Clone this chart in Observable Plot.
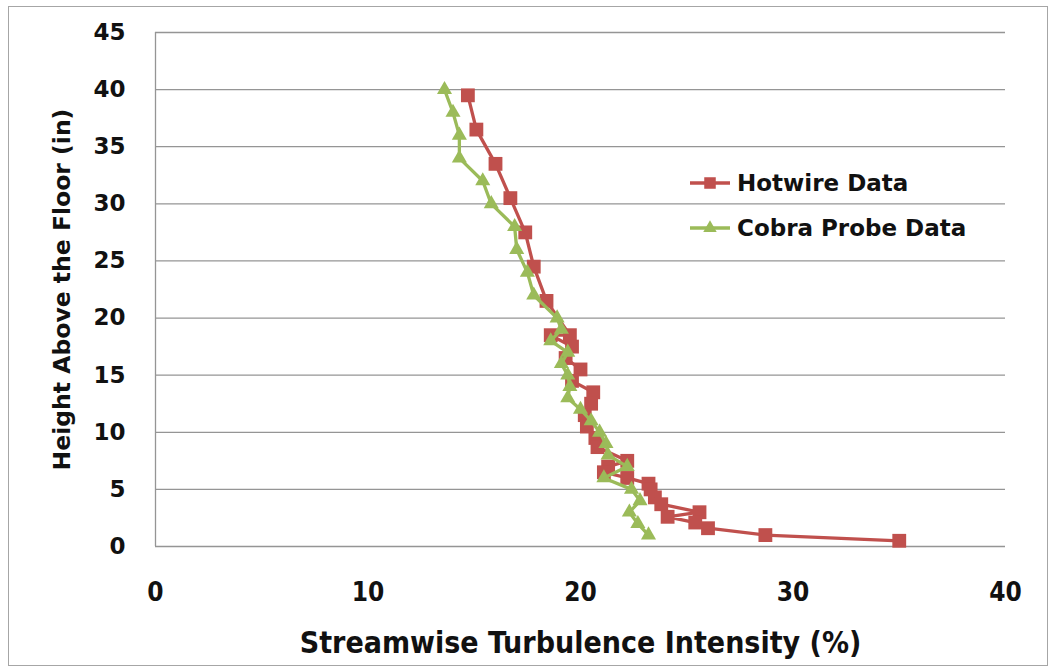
<!DOCTYPE html>
<html>
<head>
<meta charset="utf-8">
<script src="https://cdn.jsdelivr.net/npm/d3@7"></script>
<script src="https://cdn.jsdelivr.net/npm/@observablehq/plot@0.6"></script>
<style>
  html, body { margin: 0; padding: 0; background: #fff; }
  #wrap { position: relative; width: 1054px; height: 672px; overflow: hidden; }
  #border { position: absolute; left: 8px; top: 6px; width: 1040px; height: 660px;
            border: 1px solid #a6a6a6; box-sizing: border-box; pointer-events: none; }
  #legend { position: absolute; left: 688px; top: 160px; font-family: "DejaVu Sans", sans-serif;
            font-weight: bold; font-size: 23px; color: #111; }
  .item { display: flex; align-items: center; height: 45px; }
  .item svg { margin-right: 5px; }
</style>
</head>
<body>
<div id="wrap">
  <div id="chart"></div>
  <div id="legend"></div>
  <div id="border"></div>
</div>
<script>
// Hotwire measurements: height above floor (in) and turbulence intensity (%)
const hotwireHeight = [39.5, 36.5, 33.5, 30.5, 27.5, 24.5, 21.5, 18.5, 18.5, 17.5, 16.5, 15.5, 14.5, 13.5, 12.5, 11.5, 10.5, 9.5, 8.7, 7.5, 7.0, 6.5, 6.0, 5.5, 5.0, 4.3, 3.7, 3.0, 2.6, 2.1, 1.6, 1.0, 0.5];
const hotwireTI     = [14.7, 15.1, 16.0, 16.7, 17.4, 17.8, 18.4, 19.5, 18.6, 19.6, 19.3, 20.0, 19.6, 20.6, 20.5, 20.2, 20.3, 20.7, 20.8, 22.2, 21.3, 21.1, 22.2, 23.2, 23.3, 23.5, 23.8, 25.6, 24.1, 25.4, 26.0, 28.7, 35.0];

// Cobra probe measurements
const cobraHeight = [40, 38, 36, 34, 32, 30, 28, 26, 24, 22, 20, 19, 18, 17, 16, 15, 14, 13, 12, 11, 10, 9, 8, 7, 6, 5, 4, 3, 2, 1];
const cobraTI     = [13.6, 14.0, 14.3, 14.3, 15.4, 15.8, 16.9, 17.0, 17.5, 17.8, 18.9, 19.1, 18.6, 19.4, 19.1, 19.4, 19.5, 19.4, 20.0, 20.5, 20.9, 21.2, 21.3, 22.2, 21.1, 22.4, 22.8, 22.3, 22.7, 23.2];

const xTicks = [0, 10, 20, 30, 40];
const yTicks = [0, 5, 10, 15, 20, 25, 30, 35, 40, 45];

const seriesNames = ["Hotwire Data", "Cobra Probe Data"];
const seriesColors = ["#c0504d", "#9bbb59"];

const hotwire = hotwireHeight.map((h, i) => ({height: h, ti: hotwireTI[i]}));
const cobra = cobraHeight.map((h, i) => ({height: h, ti: cobraTI[i]}));

const gridColor = "#959595";

const chart = Plot.plot({
  width: 1054,
  height: 672,
  marginTop: 32,
  marginRight: 49,
  marginBottom: 126,
  marginLeft: 155,
  style: {background: "transparent"},
  x: {domain: [0, 40]},
  y: {domain: [0, 45]},
  marks: [
    Plot.ruleY(yTicks, {stroke: gridColor, strokeWidth: 1.3}),
    Plot.ruleX([0], {stroke: gridColor, strokeWidth: 1.3}),
    Plot.line(hotwire, {x: "ti", y: "height", stroke: seriesColors[0], strokeWidth: 3.3}),
    Plot.dot(hotwire, {x: "ti", y: "height", symbol: "square", r: 7.8, fill: seriesColors[0]}),
    Plot.line(cobra, {x: "ti", y: "height", stroke: seriesColors[1], strokeWidth: 3.3}),
    Plot.dot(cobra, {x: "ti", y: "height", symbol: "triangle", r: 5.6, fill: seriesColors[1]}),
    Plot.axisY({ticks: yTicks, tickSize: 0, tickPadding: 30, label: null,
                fontFamily: "DejaVu Sans", fontWeight: "bold", fontSize: 23, fill: "#111"}),
    Plot.axisX({ticks: xTicks, tickSize: 0, tickPadding: 36, label: null,
                fontFamily: "DejaVu Sans Condensed", fontWeight: "bold", fontSize: 26, fill: "#111"}),
    Plot.text(["Streamwise Turbulence Intensity (%)"], {
      frameAnchor: "bottom", dy: 97, lineAnchor: "middle", textAnchor: "middle",
      fontFamily: "DejaVu Sans Condensed", fontWeight: "bold", fontSize: 30, fill: "#111"
    }),
    Plot.text(["Height Above the Floor (in)"], {
      frameAnchor: "left", dx: -93, rotate: -90, lineAnchor: "middle", textAnchor: "middle",
      fontFamily: "DejaVu Sans", fontWeight: "bold", fontSize: 23.5, fill: "#111"
    })
  ]
});
document.getElementById("chart").appendChild(chart);

// Legend: line sample with the series marker, then the series name
const legend = d3.select("#legend");
seriesNames.forEach((name, i) => {
  const item = legend.append("div").attr("class", "item");
  const svg = item.append("svg").attr("width", 44).attr("height", 20);
  svg.append("line").attr("x1", 2).attr("x2", 42).attr("y1", 10).attr("y2", 10)
    .attr("stroke", seriesColors[i]).attr("stroke-width", 3.3);
  const sym = i === 0 ? d3.symbolSquare : d3.symbolTriangle;
  const r = i === 0 ? 6.5 : 5;
  svg.append("path").attr("transform", "translate(22,10)")
    .attr("d", d3.symbol(sym, Math.PI * r * r)()).attr("fill", seriesColors[i]);
  item.append("span").text(name);
});
</script>
</body>
</html>
